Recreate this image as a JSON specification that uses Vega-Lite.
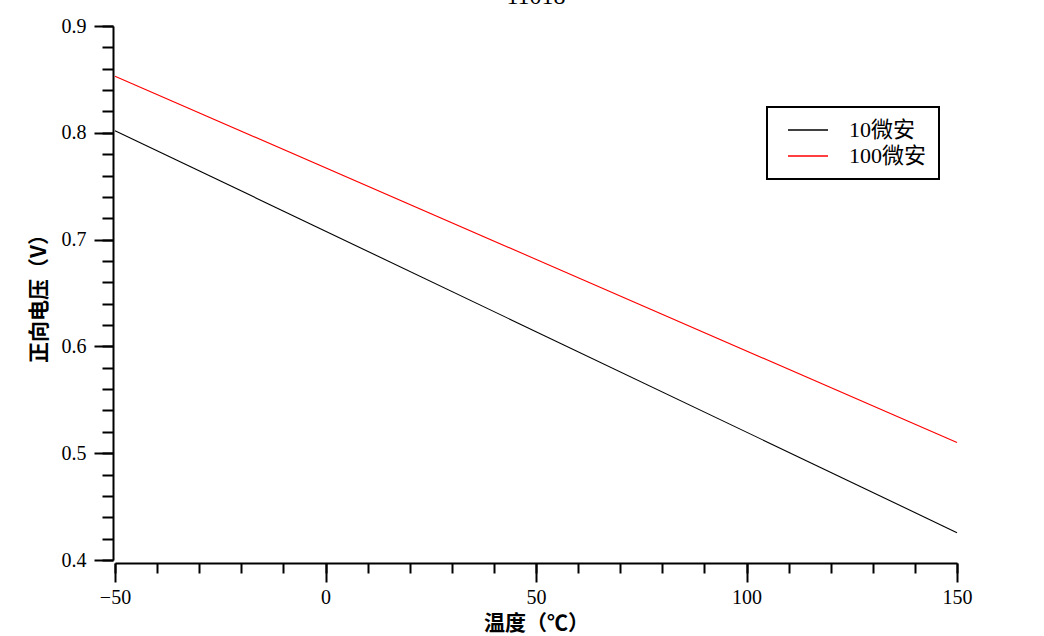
{
  "$schema": "https://vega.github.io/schema/vega-lite/v6.json",
  "width": 842,
  "height": 534,
  "autosize": {"type": "none"},
  "padding": {"left": 115, "top": 26, "right": 87, "bottom": 76},
  "background": "white",
  "title": {"text": "11018", "fontSize": 24, "font": "Liberation Serif", "fontWeight": "normal", "offset": 7, "color": "black", "anchor": "middle"},
  "config": {"view": {"stroke": null}, "legend": {"strokeWidth": 2}},
  "data": {"values": [
    {"t": -50, "v": 0.802, "s": "10微安"},
    {"t": 150, "v": 0.4256, "s": "10微安"},
    {"t": -50, "v": 0.853, "s": "100微安"},
    {"t": 150, "v": 0.510, "s": "100微安"}
  ]},
  "resolve": {"axis": {"x": "independent", "y": "independent"}},
  "layer": [
    {
      "mark": {"type": "point", "opacity": 0},
      "encoding": {
        "x": {"field": "t", "type": "quantitative",
          "scale": {"domain": [-50, 150], "nice": false, "zero": false},
          "axis": {"orient": "bottom", "title": null, "labels": false, "domain": false,
            "values": [-50,-40,-30,-20,-10,0,10,20,30,40,50,60,70,80,90,100,110,120,130,140,150],
            "tickSize": 10, "tickColor": "black", "tickWidth": 2, "offset": 3, "grid": false}},
        "y": {"field": "v", "type": "quantitative",
          "scale": {"domain": [0.4, 0.9], "nice": false, "zero": false},
          "axis": {"orient": "left", "title": null, "labels": false, "domain": false,
            "values": [0.4,0.42,0.44,0.46,0.48,0.5,0.52,0.54,0.56,0.58,0.6,0.62,0.64,0.66,0.68,0.7,0.72,0.74,0.76,0.78,0.8,0.82,0.84,0.86,0.88,0.9],
            "tickSize": 11, "tickColor": "black", "tickWidth": 2, "offset": 2, "grid": false}}
      }
    },
    {
      "mark": {"type": "line", "strokeWidth": 1.1},
      "encoding": {
        "x": {"field": "t", "type": "quantitative",
          "axis": {"orient": "bottom", "title": "温度（℃）", "titleFont": "Noto Sans CJK SC", "titleFontSize": 21, "titleFontWeight": 600, "titleColor": "black", "titlePadding": 5,
            "values": [-50, 0, 50, 100, 150],
            "labelExpr": "datum.value < 0 ? '−' + abs(datum.value) : datum.label",
            "labelFont": "Liberation Serif", "labelFontSize": 20, "labelColor": "black", "labelPadding": 5,
            "tickSize": 19, "tickColor": "black", "tickWidth": 2, "domainColor": "black", "domainWidth": 2, "offset": 3, "grid": false, "labelFlush": false, "labelOverlap": false}},
        "y": {"field": "v", "type": "quantitative",
          "axis": {"orient": "left", "title": "正向电压（V）", "titleFont": "Noto Sans CJK SC", "titleFontSize": 21, "titleFontWeight": 600, "titleColor": "black", "titlePadding": 12,
            "values": [0.4, 0.5, 0.6, 0.7, 0.8, 0.9],
            "format": ".1f",
            "labelFont": "Liberation Serif", "labelFontSize": 20, "labelColor": "black", "labelPadding": 8,
            "tickSize": 19, "tickColor": "black", "tickWidth": 2, "domainColor": "black", "domainWidth": 2, "offset": 2, "grid": false, "labelFlush": false, "labelOverlap": false}},
        "color": {"field": "s", "type": "nominal",
          "scale": {"domain": ["10微安", "100微安"], "range": ["#000000", "#ff0000"]},
          "legend": {"title": null, "orient": "none", "legendX": 652, "legendY": 81,
            "symbolType": "stroke", "symbolSize": 1600, "symbolStrokeWidth": 1.5, "symbolOffset": 8,
            "labelFont": "Liberation Serif, Noto Sans CJK SC", "labelFontSize": 22, "labelColor": "black", "labelOffset": 20,
            "labelExpr": "datum.label + '\u00a0\u00a0'",
            "clipHeight": 22, "rowPadding": 4, "padding": 12,
            "strokeColor": "black", "fillColor": "white"}}
      }
    }
  ]
}
